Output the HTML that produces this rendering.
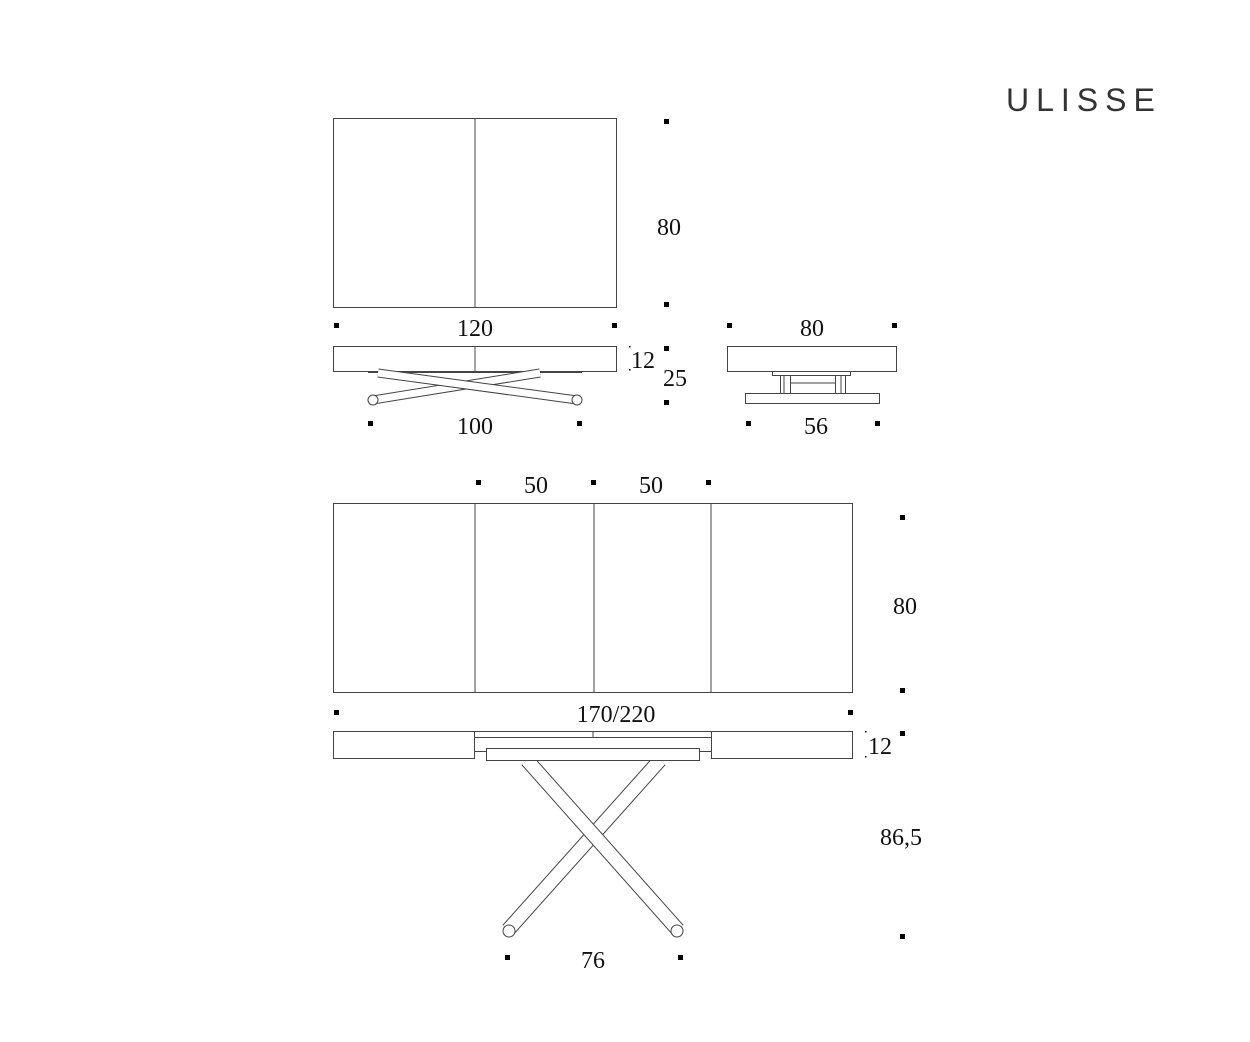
<!DOCTYPE html>
<html><head><meta charset="utf-8"><style>
html,body{margin:0;padding:0;background:#fff}
svg{display:block}
.t{font-family:"Liberation Serif",serif;font-size:24px;fill:#111;text-anchor:middle}
</style></head><body>
<svg width="1250" height="1042" viewBox="0 0 1250 1042" xmlns="http://www.w3.org/2000/svg">
<text x="1006" y="111" font-family="Liberation Sans, sans-serif" font-size="32" letter-spacing="7" fill="#333">ULISSE</text>
<g fill="none" stroke="#444" stroke-width="1">
<rect x="333.5" y="118.5" width="283" height="189"/>
<line x1="475" y1="118" x2="475" y2="307"/>
<rect x="333.5" y="346.5" width="283" height="25"/>
<line x1="475" y1="346" x2="475" y2="371"/>
<line x1="368" y1="372.5" x2="582" y2="372.5"/>
</g>
<g stroke-linecap="butt">
<line x1="373" y1="400" x2="540" y2="373" stroke="#444" stroke-width="9"/>
<line x1="373" y1="400" x2="540" y2="373" stroke="#fff" stroke-width="7"/>
<line x1="378" y1="373" x2="577" y2="400" stroke="#444" stroke-width="9"/>
<line x1="378" y1="373" x2="577" y2="400" stroke="#fff" stroke-width="7"/>
</g>
<circle cx="373" cy="400" r="5" fill="#fff" stroke="#444"/>
<circle cx="577" cy="400" r="5" fill="#fff" stroke="#444"/>
<g fill="#fff" stroke="#444" stroke-width="1">
<rect x="727.5" y="346.5" width="169" height="25"/>
<rect x="772.5" y="371.5" width="78" height="4"/>
<rect x="780.5" y="375.5" width="10" height="18"/>
<rect x="835.5" y="375.5" width="10" height="18"/>
<line x1="784" y1="376" x2="784" y2="393"/>
<line x1="841" y1="376" x2="841" y2="393"/>
<line x1="791" y1="383" x2="835" y2="383"/>
<rect x="745.5" y="393.5" width="134" height="10"/>
</g>
<g fill="none" stroke="#444" stroke-width="1">
<rect x="333.5" y="503.5" width="519" height="189"/>
<line x1="475" y1="503" x2="475" y2="692"/>
<line x1="594" y1="503" x2="594" y2="692"/>
<line x1="711" y1="503" x2="711" y2="692"/>
<rect x="333.5" y="731.5" width="141" height="27"/>
<rect x="711.5" y="731.5" width="141" height="27"/>
<rect x="474.5" y="731.5" width="237" height="20"/>
<line x1="474" y1="737.5" x2="711" y2="737.5"/>
<line x1="593" y1="731" x2="593" y2="737"/>
</g>
<g>
<line x1="660" y1="760" x2="508" y2="930" stroke="#444" stroke-width="15"/>
<line x1="660" y1="760" x2="508" y2="930" stroke="#fff" stroke-width="13"/>
<line x1="527" y1="760" x2="678" y2="930" stroke="#444" stroke-width="15"/>
<line x1="527" y1="760" x2="678" y2="930" stroke="#fff" stroke-width="13"/>
</g>
<rect x="486.5" y="748.5" width="213" height="12" fill="#fff" stroke="#444"/>
<circle cx="509" cy="931" r="6" fill="#fff" stroke="#444"/>
<circle cx="677" cy="931" r="6" fill="#fff" stroke="#444"/>
<g fill="#000">
<rect x="664" y="119" width="5" height="5"/><rect x="664" y="302" width="5" height="5"/>
<rect x="334" y="323" width="5" height="5"/><rect x="612" y="323" width="5" height="5"/>
<rect x="664" y="346" width="5" height="5"/><rect x="664" y="400" width="5" height="5"/>
<rect x="368" y="421" width="5" height="5"/><rect x="577" y="421" width="5" height="5"/>
<rect x="727" y="323" width="5" height="5"/><rect x="892" y="323" width="5" height="5"/>
<rect x="746" y="421" width="5" height="5"/><rect x="875" y="421" width="5" height="5"/>
<rect x="476" y="480" width="5" height="5"/><rect x="591" y="480" width="5" height="5"/><rect x="706" y="480" width="5" height="5"/>
<rect x="900" y="515" width="5" height="5"/><rect x="900" y="688" width="5" height="5"/>
<rect x="334" y="710" width="5" height="5"/><rect x="848" y="710" width="5" height="5"/>
<rect x="900" y="731" width="5" height="5"/><rect x="900" y="934" width="5" height="5"/>
<rect x="505" y="955" width="5" height="5"/><rect x="678" y="955" width="5" height="5"/>
<rect x="629" y="346" width="1.5" height="1.5"/><rect x="629" y="369" width="1.5" height="1.5"/>
<rect x="865" y="731" width="1.5" height="1.5"/><rect x="865" y="756" width="1.5" height="1.5"/>
</g>
<text class="t" x="669" y="235">80</text>
<text class="t" x="475" y="336">120</text>
<text class="t" x="643" y="368">12</text>
<text class="t" x="675" y="386">25</text>
<text class="t" x="475" y="434">100</text>
<text class="t" x="812" y="336">80</text>
<text class="t" x="816" y="434">56</text>
<text class="t" x="536" y="493">50</text>
<text class="t" x="651" y="493">50</text>
<text class="t" x="905" y="614">80</text>
<text class="t" x="616" y="722">170/220</text>
<text class="t" x="880" y="754">12</text>
<text class="t" x="901" y="845">86,5</text>
<text class="t" x="593" y="968">76</text>
</svg>
</body></html>
